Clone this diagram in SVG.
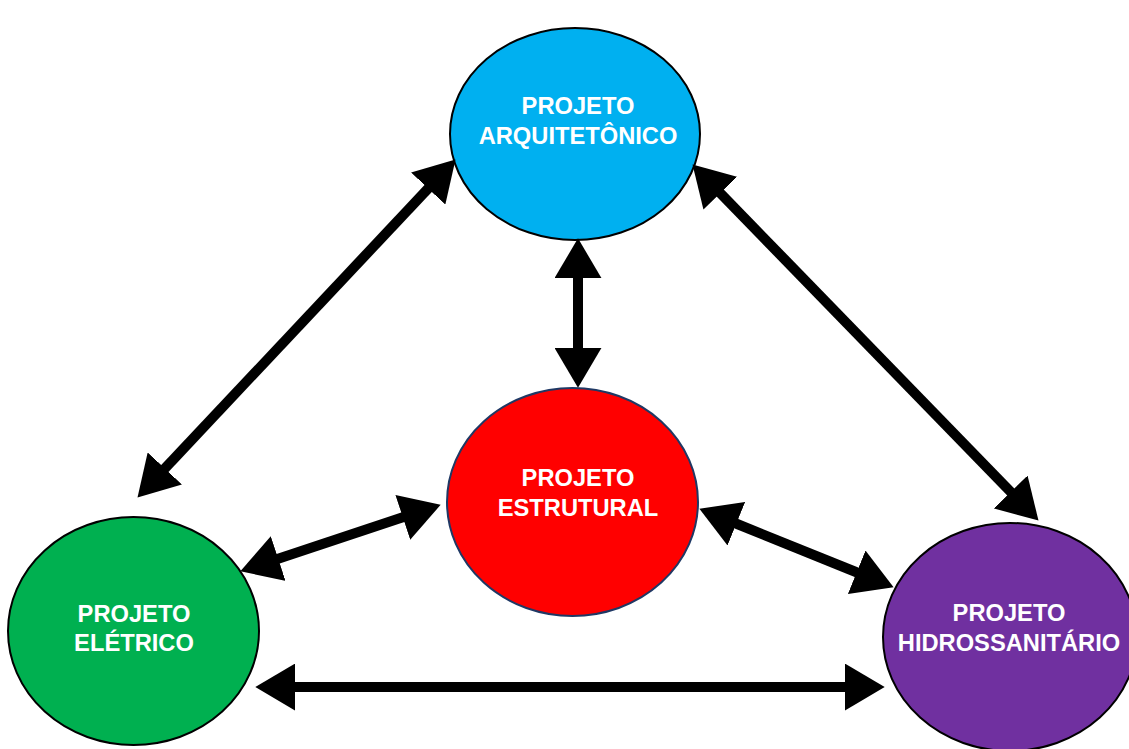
<svg xmlns="http://www.w3.org/2000/svg" width="1129" height="749" viewBox="0 0 1129 749">
<style>
.node{stroke:#000;stroke-width:2}
.lbl{font-family:"Liberation Sans",Arial,sans-serif;font-weight:bold;font-size:23.7px;fill:#fff;text-anchor:middle}
.conn{stroke:#000;stroke-width:10;fill:none;marker-start:url(#ah);marker-end:url(#ah)}
</style>
<defs>
<marker id="ah" markerUnits="userSpaceOnUse" markerWidth="40" markerHeight="47" viewBox="0 0 39 46" refX="7" refY="23" orient="auto-start-reverse">
<path d="M0,0 L39,23 L0,46 z" fill="#000"/>
</marker>
</defs>
<rect width="1129" height="749" fill="#fff"/>
<g id="arquitetonico">
<ellipse class="node" cx="575" cy="134" rx="125" ry="106" fill="#00B0F0"/>
<text class="lbl" x="578" y="114">PROJETO</text>
<text class="lbl" x="578" y="144">ARQUITETÔNICO</text>
</g>
<g id="estrutural">
<ellipse class="node" cx="572.5" cy="502" rx="125.5" ry="114" fill="#FF0000" style="stroke:#1F3864"/>
<text class="lbl" x="578" y="486">PROJETO</text>
<text class="lbl" x="578" y="516">ESTRUTURAL</text>
</g>
<g id="eletrico">
<ellipse class="node" cx="133.5" cy="631" rx="125.5" ry="114" fill="#00B050"/>
<text class="lbl" x="134" y="622">PROJETO</text>
<text class="lbl" x="134" y="651">ELÉTRICO</text>
</g>
<g id="hidrossanitario">
<ellipse class="node" cx="1010" cy="637" rx="127" ry="114" fill="#7030A0"/>
<text class="lbl" x="1009" y="621">PROJETO</text>
<text class="lbl" x="1009" y="651">HIDROSSANITÁRIO</text>
</g>
<g id="connectors">
<line class="conn" x1="578" y1="271" x2="578" y2="355"/>
<line class="conn" x1="433.1" y1="183.3" x2="159.9" y2="473.7"/>
<line class="conn" x1="715.3" y1="188" x2="1015.7" y2="497.1"/>
<line class="conn" x1="271.4" y1="560.9" x2="409.6" y2="515.1"/>
<line class="conn" x1="729.7" y1="521" x2="863.3" y2="575"/>
<line class="conn" x1="288" y1="687" x2="852" y2="687"/>
</g>
</svg>
